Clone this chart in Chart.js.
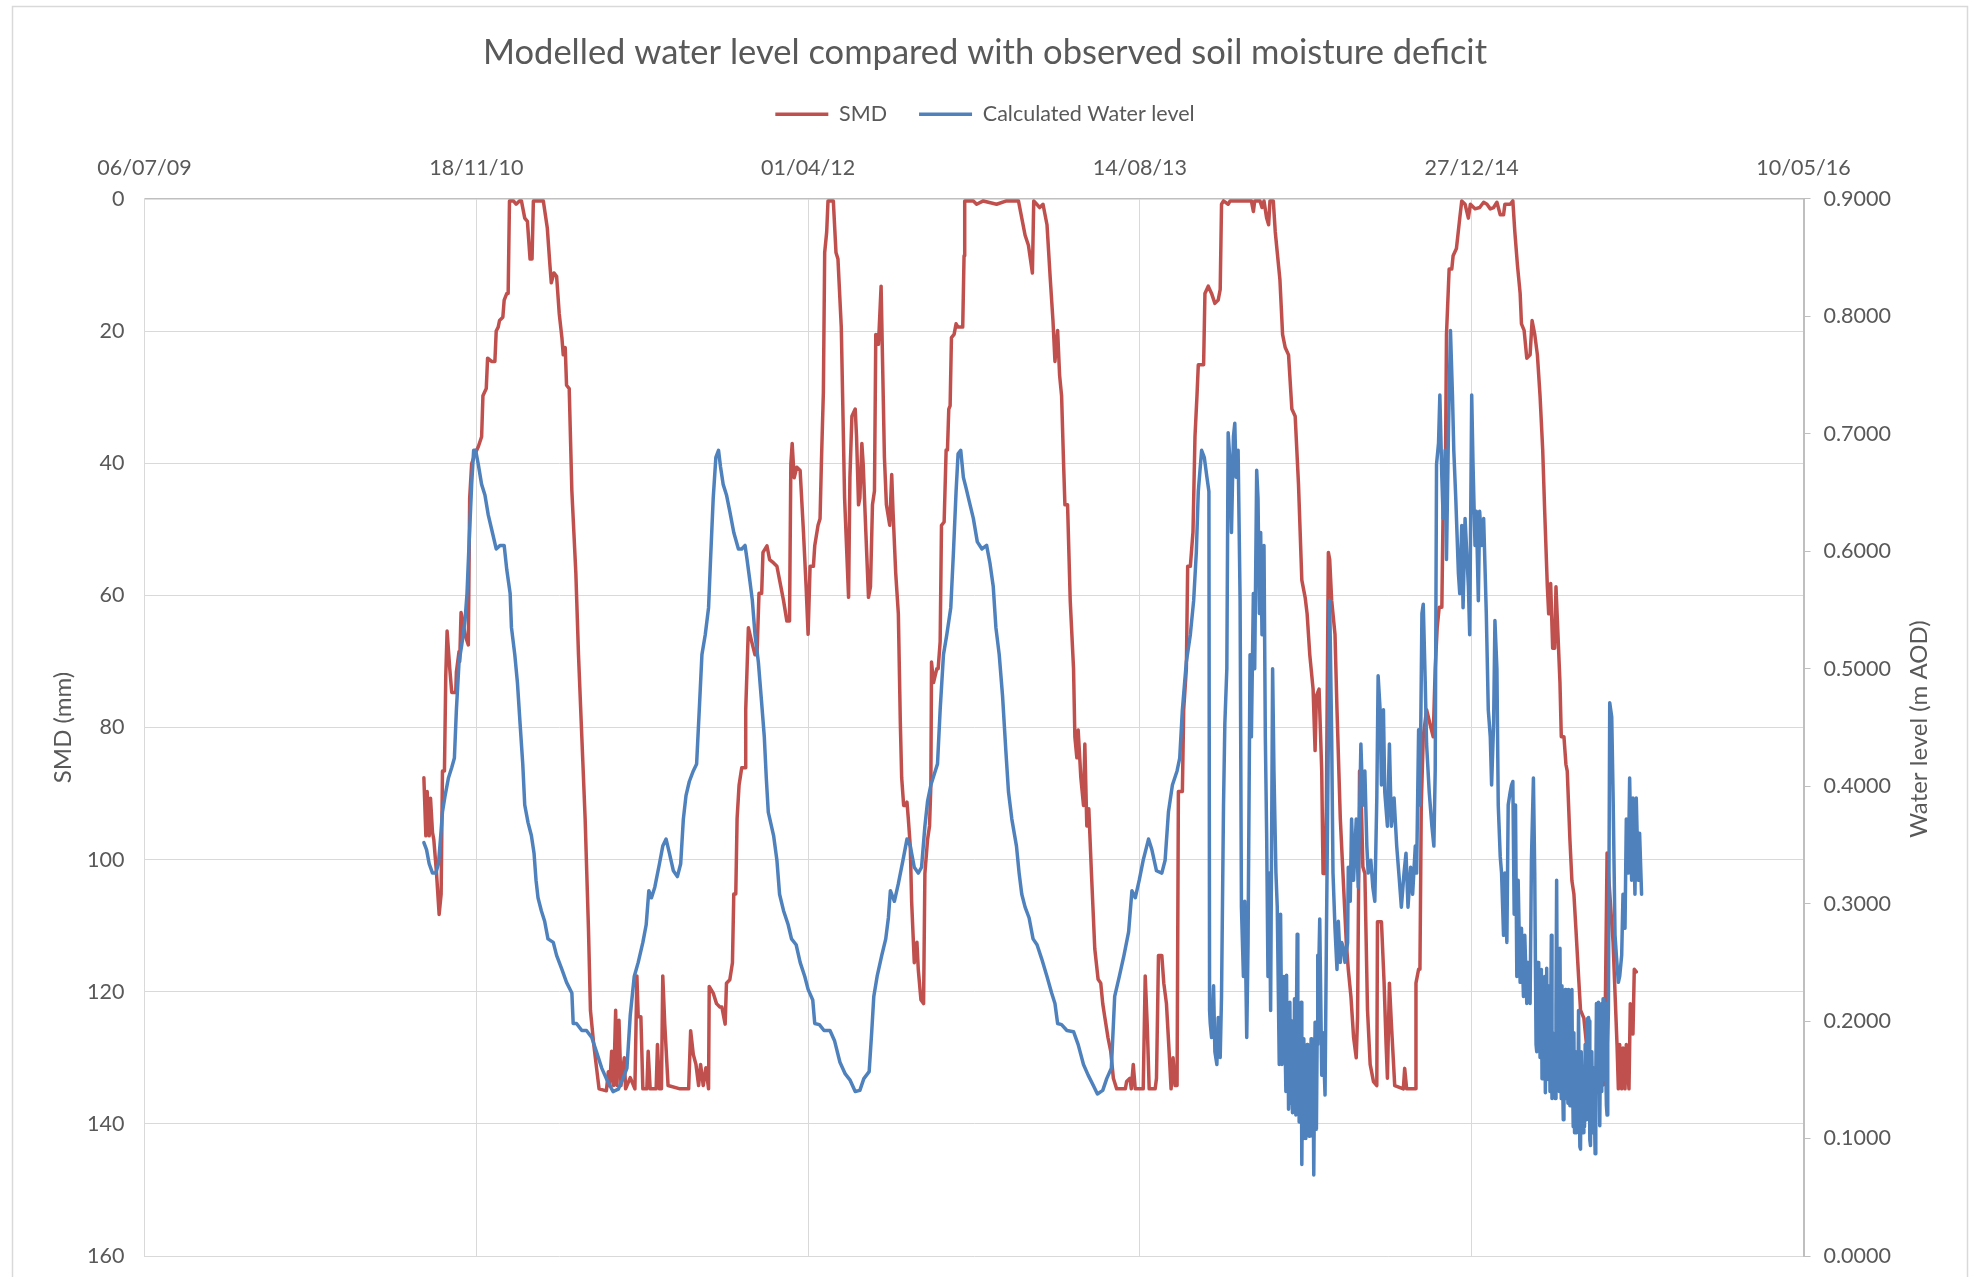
<!DOCTYPE html>
<html>
<head>
<meta charset="utf-8">
<title>Modelled water level compared with observed soil moisture deficit</title>
<script src="https://cdn.jsdelivr.net/npm/chart.js@4.4.1/dist/chart.umd.min.js"></script>
<style>
  html, body { margin: 0; padding: 0; background: #fff; }
  #wrap { width: 1970px; height: 1277px; position: relative; }
</style>
</head>
<body>
<div id="wrap"><canvas id="chart" width="1970" height="1277"></canvas></div>
<script>
// x values are days since 06/07/09 (the first axis tick)
const dateLabels = ["06/07/09", "18/11/10", "01/04/12", "14/08/13", "27/12/14", "10/05/16"];
const daysPerTick = 500;

// -------------------- SMD (mm) --------------------
const smdDays = [
  421, 424, 426, 429, 431, 434, 436, 440, 444, 447, 449, 452, 454, 456, 460, 463, 469, 470, 474, 475,
  477, 480, 483, 488, 490, 493, 498, 503, 508, 510, 515, 517, 523, 528, 530, 533, 535, 540, 542, 546,
  548, 550, 556, 560, 565, 568, 573, 577, 581, 584, 586, 601, 607, 611, 613, 617, 621, 625, 629, 631,
  634, 636, 640, 644, 650, 654, 659, 664, 669, 672, 677, 685, 696, 699, 701, 704, 707, 710, 712, 715,
  718, 723, 725, 732, 739, 742, 744, 748, 751, 757, 759, 762, 771, 773, 776, 779, 781, 784, 789, 807,
  820, 823, 827, 831, 835, 838, 842, 846, 850, 851, 857, 862, 867, 870, 875, 877, 882, 886, 888, 891,
  893, 896, 900, 905, 906, 910, 915, 920, 923, 926, 930, 932, 938, 942, 948, 953, 958, 963, 968, 972,
  974, 976, 979, 983, 988, 993, 997, 1000, 1003, 1008, 1010, 1015, 1018, 1020, 1023, 1025, 1028, 1030, 1038, 1042,
  1045, 1050, 1055, 1061, 1063, 1066, 1071, 1073, 1076, 1078, 1081, 1083, 1087, 1091, 1094, 1097, 1100, 1102, 1106, 1107,
  1110, 1112, 1115, 1118, 1123, 1126, 1128, 1132, 1136, 1139, 1141, 1144, 1146, 1149, 1151, 1154, 1156, 1160, 1164, 1166,
  1170, 1174, 1176, 1180, 1183, 1185, 1186, 1189, 1194, 1196, 1199, 1201, 1205, 1208, 1210, 1212, 1214, 1216, 1220, 1223,
  1226, 1233, 1235, 1236, 1249, 1254, 1264, 1284, 1299, 1317, 1322, 1327, 1332, 1335, 1338, 1340, 1349, 1354, 1360, 1365,
  1369, 1372, 1376, 1379, 1382, 1385, 1387, 1391, 1395, 1400, 1402, 1405, 1407, 1411, 1415, 1417, 1420, 1423, 1427, 1432,
  1437, 1441, 1444, 1447, 1452, 1456, 1460, 1465, 1478, 1480, 1485, 1487, 1490, 1493, 1505, 1508, 1511, 1514, 1523, 1525,
  1528, 1533, 1536, 1540, 1544, 1547, 1550, 1553, 1556, 1558, 1564, 1566, 1570, 1572, 1576, 1580, 1583, 1586, 1588, 1596,
  1598, 1603, 1608, 1613, 1618, 1621, 1623, 1626, 1633, 1636, 1668, 1671, 1673, 1681, 1684, 1687, 1691, 1694, 1696, 1701,
  1704, 1707, 1711, 1715, 1719, 1724, 1729, 1734, 1739, 1744, 1749, 1752, 1756, 1761, 1764, 1766, 1770, 1774, 1776, 1779,
  1781, 1784, 1786, 1789, 1794, 1797, 1802, 1807, 1811, 1814, 1818, 1822, 1826, 1828, 1831, 1833, 1836, 1839, 1843, 1847,
  1852, 1857, 1858, 1864, 1868, 1871, 1873, 1876, 1879, 1884, 1897, 1899, 1902, 1915, 1916, 1920, 1922, 1924, 1927, 1932,
  1937, 1942, 1945, 1948, 1951, 1955, 1957, 1960, 1962, 1966, 1970, 1972, 1977, 1982, 1985, 1990, 1995, 1998, 2005, 2012,
  2018, 2023, 2028, 2033, 2038, 2043, 2048, 2050, 2058, 2062, 2065, 2069, 2073, 2075, 2079, 2083, 2088, 2091, 2095, 2099,
  2103, 2107, 2110, 2114, 2116, 2119, 2122, 2125, 2127, 2130, 2133, 2135, 2139, 2142, 2144, 2148, 2151, 2154, 2157, 2161,
  2164, 2169, 2174, 2180, 2190, 2200, 2204, 2213, 2219, 2221, 2223, 2226, 2228, 2231, 2233, 2237, 2239, 2243, 2245, 2248
];
const smdValues = [
  87.6, 96.4, 89.7, 96.4, 90.7, 95.9, 97, 102, 108.3, 105.2, 86.6, 86.6, 72.1, 65.4, 71.1, 74.7, 74.7, 71.6, 68.5, 70,
  62.6, 63.9, 66, 67.5, 45.3, 40.1, 38.6, 37.5, 36, 29.8, 28.7, 24.1, 24.6, 24.6, 20, 19.4, 18.4, 17.9, 15.3, 14.3,
  14.3, 0.3, 0.3, 0.8, 0.3, 0.3, 2.9, 3.4, 9.1, 9.1, 0.3, 0.3, 4.4, 10.1, 12.7, 11.2, 11.7, 17.4, 21, 23.6,
  22.5, 28.2, 28.7, 44.2, 56.6, 69, 81.4, 93.8, 110.4, 122.8, 128, 134.7, 135, 132.1, 134.2, 129, 134.2, 122.8, 134.2, 124.3,
  134.2, 130, 134.7, 133, 134.7, 117.6, 123.8, 123.8, 134.7, 134.7, 129, 134.7, 134.7, 128, 134.7, 134.7, 117.6, 124.9, 134.2, 134.7,
  134.7, 125.9, 129.5, 131, 134.2, 131, 134.2, 131.5, 134.7, 119.2, 120.2, 121.8, 122.3, 122.3, 124.9, 118.7, 118.2, 115.6, 105.2, 105.2,
  93.8, 88.7, 86.1, 86.1, 77.3, 64.9, 67, 69, 69, 59.7, 59.7, 53.5, 52.5, 54.6, 55.1, 55.6, 58.2, 60.8, 63.9, 63.9,
  40.1, 37, 42.2, 40.6, 41.1, 50.4, 58.7, 65.9, 55.6, 55.6, 52.5, 49.4, 48.4, 40.1, 29.3, 8.1, 5, 0.3, 0.3, 8.1,
  9.1, 19.4, 45.3, 60.3, 42.2, 32.9, 31.8, 36, 46.3, 45.3, 37, 40.1, 50.4, 60.3, 58.7, 46.3, 44.2, 20.5, 22, 19.9,
  13.2, 23.6, 39.1, 46.3, 49.4, 41.7, 47.3, 56.6, 62.8, 79.4, 87.6, 91.8, 91.8, 91.3, 93.8, 98, 106.3, 115.6, 112.5, 116.6,
  121.2, 121.8, 102.1, 97, 94.9, 88.7, 70.1, 73.2, 71.1, 71.1, 67, 49.4, 48.9, 38, 38, 31.8, 31.3, 21, 20.5, 18.9,
  19.4, 19.4, 8.6, 0.3, 0.3, 0.8, 0.3, 0.8, 0.3, 0.3, 2.9, 5.5, 7, 9.1, 11.2, 0.3, 1.3, 0.8, 3.9, 12.2,
  18.4, 24.6, 19.9, 26.7, 29.8, 40.1, 46.3, 46.3, 60.8, 71.1, 81.4, 84.6, 80.4, 87.6, 91.8, 82.5, 94.9, 92.3, 102.1, 113.5,
  118.1, 118.7, 121.8, 123.8, 127, 129, 133.1, 134.7, 134.7, 133.6, 133.1, 134.7, 131, 134.7, 134.7, 117.6, 124.9, 134.7, 134.7, 133.1,
  114.5, 114.5, 118.7, 121.8, 129, 134.7, 130, 134.2, 134.2, 89.7, 89.7, 77.3, 71.1, 55.6, 55.6, 50.4, 36, 29.8, 25.1, 25.1,
  14.3, 13.2, 14.3, 15.8, 15.3, 13.7, 0.8, 0.3, 0.8, 0.3, 0.3, 1.9, 0.3, 0.3, 1.3, 0.3, 2.9, 3.9, 0.3, 0.3,
  5, 8.1, 12.2, 20.5, 22.5, 23.6, 31.8, 32.9, 43.2, 57.7, 60.3, 62.8, 69, 74.2, 83.5, 75.2, 74.2, 86.6, 102.1, 102.1,
  91.8, 53.5, 54.6, 60.8, 65.9, 77.3, 93.8, 104.2, 112.5, 116.6, 120.7, 126.9, 130, 123.8, 86.6, 88.7, 101.1, 102.1, 122.8, 131,
  133.6, 134.2, 109.4, 109.4, 118.7, 128, 133.1, 118.7, 124.9, 134.2, 134.7, 131.6, 134.7, 134.7, 118.7, 116.6, 116.6, 91.8, 81.4, 77.3,
  79.4, 81.4, 71.1, 64.9, 61.8, 61.8, 46.3, 46.3, 20.5, 10.6, 10.6, 8.6, 7.5, 2.9, 0.3, 0.8, 2.9, 0.8, 1.5, 1.3,
  0.5, 0.8, 1.5, 1.3, 0.5, 2.4, 2.4, 0.8, 0.8, 0.3, 5, 10.1, 14.3, 18.9, 19.9, 24.1, 23.6, 18.4, 20.5, 23.6,
  29.8, 38, 47.3, 58.7, 62.8, 58.2, 68, 68, 58.7, 65.9, 73.2, 81.4, 81.4, 85.6, 86.6, 97, 103.2, 105.2, 110.4, 117.6,
  122.8, 124, 129, 132, 134.5, 134, 99, 112.5, 128, 134.7, 128, 134.7, 128.5, 134.7, 128, 134.7, 121.8, 126.4, 116.6, 117
];

// -------------------- Calculated water level (m AOD) --------------------
const wlDays = [
  421, 425, 429, 434, 439, 443, 446, 449, 453, 458, 463, 467, 470, 474, 478, 483, 486, 489, 493, 496,
  499, 503, 508, 513, 518, 523, 530, 536, 542, 546, 551, 553, 558, 562, 566, 570, 573, 578, 583, 587,
  590, 593, 598, 603, 608, 616, 621, 629, 636, 644, 646, 651, 659, 666, 674, 681, 689, 696, 706, 714,
  721, 727, 732, 738, 744, 751, 756, 760, 764, 769, 776, 781, 786, 791, 797, 803, 808, 812, 816, 821,
  827, 832, 836, 840, 845, 850, 853, 857, 861, 865, 868, 872, 877, 882, 888, 895, 900, 905, 908, 912,
  916, 920, 925, 930, 934, 937, 940, 948, 953, 957, 963, 970, 975, 982, 988, 995, 1000, 1007, 1010, 1017,
  1024, 1033, 1040, 1048, 1056, 1063, 1071, 1078, 1084, 1092, 1096, 1099, 1104, 1111, 1117, 1121, 1124, 1130, 1136, 1143,
  1149, 1154, 1160, 1166, 1171, 1176, 1180, 1185, 1190, 1195, 1199, 1204, 1209, 1215, 1219, 1223, 1226, 1230, 1234, 1238,
  1243, 1249, 1255, 1262, 1269, 1274, 1279, 1283, 1288, 1293, 1298, 1302, 1307, 1314, 1318, 1322, 1327, 1333, 1339, 1345,
  1352, 1360, 1367, 1372, 1376, 1382, 1390, 1400, 1407, 1415, 1422, 1430, 1436, 1444, 1450, 1457, 1462, 1469, 1476, 1483,
  1488, 1493, 1499, 1505, 1513, 1518, 1525, 1533, 1538, 1543, 1549, 1556, 1560, 1564, 1570, 1576, 1581, 1585, 1588, 1593,
  1597, 1601, 1604, 1605, 1606, 1608, 1611, 1613, 1616, 1618, 1621, 1623, 1626, 1628, 1631, 1633, 1636, 1638, 1641, 1643,
  1645, 1648, 1651, 1653, 1656, 1658, 1661, 1663, 1666, 1668, 1671, 1673, 1676, 1678, 1680, 1682, 1684, 1687, 1689, 1691,
  1693, 1695, 1697, 1700, 1702, 1705, 1707, 1710, 1712, 1714, 1717, 1720, 1721, 1722, 1723, 1724, 1725, 1726, 1727, 1728,
  1729, 1730, 1731, 1732, 1733, 1734, 1735, 1736, 1737, 1738, 1739, 1740, 1741, 1742, 1743, 1744, 1745, 1746, 1747, 1748,
  1749, 1750, 1751, 1752, 1753, 1754, 1755, 1756, 1757, 1758, 1759, 1760, 1761, 1762, 1763, 1764, 1765, 1766, 1767, 1768,
  1769, 1771, 1774, 1776, 1779, 1781, 1784, 1786, 1789, 1791,
  1794, 1797, 1799, 1802, 1804, 1807, 1809, 1813, 1814, 1817, 1819, 1822, 1826, 1829, 1833, 1836, 1839, 1842, 1844, 1848,
  1851, 1854, 1857, 1859, 1862, 1864, 1867, 1869, 1873, 1876, 1879, 1883, 1887, 1891, 1894, 1898, 1901, 1904, 1908, 1911,
  1915, 1917, 1920, 1922, 1925, 1927, 1930, 1932, 1936, 1940, 1943, 1945, 1947, 1950, 1952, 1955, 1957, 1960, 1962, 1965,
  1968, 1971, 1973, 1976, 1980, 1982, 1985, 1987, 1990, 1992, 1995, 1997, 2000, 2002, 2005, 2007, 2010, 2012, 2015, 2018,
  2022, 2025, 2028, 2030, 2033, 2035, 2038, 2040, 2043, 2045, 2048, 2050, 2053, 2055, 2058, 2060, 2062, 2064, 2066, 2068,
  2070, 2073, 2075, 2078, 2080, 2083, 2085, 2088, 2090, 2093,
  2095, 2096, 2097, 2098, 2099, 2100, 2101, 2102, 2103, 2104, 2105, 2106, 2107, 2108, 2109, 2110, 2111, 2112, 2113, 2114,
  2115, 2116, 2117, 2118, 2119, 2120, 2121, 2122, 2123, 2124, 2125, 2126, 2127, 2128, 2129, 2130, 2131, 2132, 2133, 2134,
  2135, 2136, 2137, 2138, 2139, 2140, 2141, 2142, 2143, 2144, 2145, 2146, 2147, 2148, 2149, 2150, 2151, 2152, 2153, 2154,
  2155, 2156, 2157, 2158, 2159, 2160, 2161, 2162, 2163, 2164, 2165, 2166, 2167, 2168, 2169, 2170, 2171, 2172, 2173, 2174,
  2175, 2176, 2177, 2178, 2179, 2180, 2181, 2182, 2183, 2184, 2185, 2186, 2187, 2188, 2189, 2190, 2191, 2192, 2193, 2194,
  2195, 2196, 2197, 2198, 2199, 2200, 2201, 2202, 2203, 2204, 2205, 2206,
  2208, 2211, 2213, 2216, 2218,
  2221, 2223, 2226, 2228, 2231, 2233, 2236, 2238, 2241, 2243, 2246, 2248, 2251, 2253, 2256
];
const wlValues = [
  0.352, 0.346, 0.334, 0.326, 0.326, 0.334, 0.355, 0.378, 0.392, 0.407, 0.416, 0.424, 0.465, 0.506, 0.520, 0.541, 0.564, 0.605, 0.657, 0.686,
  0.686, 0.674, 0.657, 0.648, 0.631, 0.619, 0.602, 0.605, 0.605, 0.584, 0.564, 0.535, 0.512, 0.488, 0.453, 0.419, 0.384, 0.369, 0.358, 0.343,
  0.320, 0.305, 0.294, 0.285, 0.270, 0.267, 0.256, 0.244, 0.233, 0.224, 0.198, 0.198, 0.192, 0.192, 0.186, 0.174, 0.160, 0.151, 0.140, 0.142,
  0.151, 0.160, 0.205, 0.238, 0.250, 0.267, 0.282, 0.311, 0.305, 0.314, 0.334, 0.349, 0.355, 0.343, 0.328, 0.323, 0.334, 0.372, 0.392, 0.404,
  0.413, 0.419, 0.465, 0.512, 0.529, 0.552, 0.593, 0.645, 0.680, 0.686, 0.672, 0.657, 0.648, 0.634, 0.616, 0.602, 0.602, 0.605, 0.593, 0.576,
  0.558, 0.529, 0.506, 0.471, 0.442, 0.407, 0.378, 0.358, 0.337, 0.308, 0.294, 0.282, 0.270, 0.265, 0.250, 0.238, 0.227, 0.218, 0.198, 0.197,
  0.192, 0.192, 0.183, 0.165, 0.155, 0.150, 0.140, 0.141, 0.151, 0.157, 0.192, 0.221, 0.238, 0.256, 0.270, 0.288, 0.311, 0.302, 0.317, 0.337,
  0.355, 0.349, 0.331, 0.326, 0.331, 0.366, 0.387, 0.401, 0.410, 0.419, 0.465, 0.512, 0.529, 0.552, 0.599, 0.651, 0.683, 0.686, 0.663, 0.654,
  0.642, 0.628, 0.608, 0.602, 0.605, 0.590, 0.570, 0.535, 0.512, 0.477, 0.430, 0.395, 0.372, 0.349, 0.326, 0.308, 0.297, 0.288, 0.270, 0.265,
  0.253, 0.238, 0.224, 0.215, 0.198, 0.197, 0.192, 0.191, 0.180, 0.163, 0.154, 0.145, 0.138, 0.141, 0.151, 0.160, 0.221, 0.238, 0.256, 0.276,
  0.311, 0.305, 0.320, 0.337, 0.355, 0.346, 0.328, 0.326, 0.337, 0.378, 0.401, 0.413, 0.424, 0.465, 0.506, 0.529, 0.558, 0.599, 0.651, 0.686,
  0.680, 0.663, 0.651, 0.209, 0.198, 0.186, 0.230, 0.174, 0.163, 0.203, 0.169, 0.221, 0.384, 0.453, 0.500, 0.701, 0.674, 0.616, 0.698, 0.709,
  0.663, 0.686, 0.558, 0.297, 0.238, 0.302, 0.186, 0.267, 0.512, 0.442, 0.564, 0.500, 0.669, 0.645, 0.547, 0.616, 0.529, 0.605, 0.442, 0.360,
  0.238, 0.326, 0.209, 0.500, 0.413, 0.326, 0.297, 0.163, 0.291, 0.163, 0.238, 0.140, 0.239, 0.150, 0.205, 0.125, 0.190, 0.216, 0.130, 0.200,
  0.140, 0.122, 0.195, 0.128, 0.219, 0.150, 0.120, 0.210, 0.274, 0.160, 0.200, 0.114, 0.170, 0.125, 0.216, 0.078, 0.150, 0.100, 0.185, 0.120,
  0.170, 0.100, 0.160, 0.180, 0.110, 0.165, 0.102, 0.150, 0.120, 0.185, 0.105, 0.102, 0.160, 0.069, 0.140, 0.199, 0.120, 0.108, 0.180, 0.256,
  0.230, 0.287, 0.154, 0.190, 0.137, 0.267, 0.442, 0.558, 0.442, 0.326,
  0.279, 0.244, 0.285, 0.250, 0.267, 0.262, 0.250, 0.267, 0.331, 0.302, 0.372, 0.320, 0.372, 0.314, 0.436, 0.384, 0.413, 0.349, 0.326, 0.337,
  0.314, 0.302, 0.390, 0.494, 0.465, 0.401, 0.465, 0.395, 0.366, 0.436, 0.366, 0.390, 0.349, 0.320, 0.297, 0.326, 0.343, 0.297, 0.331, 0.308,
  0.349, 0.326, 0.448, 0.384, 0.547, 0.555, 0.488, 0.436, 0.395, 0.366, 0.349, 0.413, 0.674, 0.692, 0.733, 0.663, 0.628, 0.686, 0.593, 0.703,
  0.788, 0.733, 0.686, 0.645, 0.581, 0.564, 0.622, 0.552, 0.628, 0.605, 0.570, 0.529, 0.733, 0.674, 0.605, 0.634, 0.558, 0.634, 0.605, 0.628,
  0.547, 0.465, 0.442, 0.401, 0.453, 0.541, 0.500, 0.384, 0.340, 0.326, 0.273, 0.326, 0.267, 0.384, 0.395, 0.401, 0.404, 0.291, 0.384, 0.238,
  0.320, 0.233, 0.279, 0.221, 0.273, 0.215, 0.250, 0.215, 0.337, 0.407,
  0.326, 0.250, 0.180, 0.174, 0.230, 0.250, 0.190, 0.240, 0.169, 0.210, 0.244, 0.151, 0.200, 0.151, 0.220, 0.238, 0.139, 0.190, 0.245, 0.160,
  0.209, 0.150, 0.230, 0.140, 0.200, 0.273, 0.134, 0.190, 0.180, 0.136, 0.140, 0.134, 0.210, 0.320, 0.200, 0.151, 0.190, 0.140, 0.262, 0.180,
  0.134, 0.230, 0.150, 0.116, 0.200, 0.150, 0.227, 0.160, 0.134, 0.222, 0.130, 0.227, 0.170, 0.128, 0.215, 0.140, 0.227, 0.150, 0.110, 0.190,
  0.105, 0.174, 0.130, 0.105, 0.170, 0.120, 0.209, 0.140, 0.093, 0.091, 0.174, 0.174, 0.120, 0.105, 0.160, 0.110, 0.180, 0.140, 0.116, 0.202,
  0.150, 0.203, 0.200, 0.099, 0.094, 0.150, 0.174, 0.130, 0.105, 0.160, 0.120, 0.087, 0.150, 0.215, 0.160, 0.200, 0.216, 0.150, 0.111, 0.180,
  0.140, 0.215, 0.170, 0.219, 0.150, 0.174, 0.215, 0.160, 0.128, 0.120, 0.180, 0.209,
  0.471, 0.459, 0.395, 0.273, 0.256,
  0.233, 0.238, 0.256, 0.308, 0.279, 0.372, 0.326, 0.407, 0.320, 0.390, 0.308, 0.390, 0.320, 0.360, 0.308
];

// -------------------- STYLE --------------------
const FONT = "Lato, 'Noto Sans', 'Liberation Sans', sans-serif";
const TEXT = "#595959";
const GRID = "#d9d9d9";
const AXIS = "#bfbfbf";
const RED = "#c0504d";
const BLUE = "#4f81bd";

// chart border + right-hand axis title (Excel reads it bottom-to-top)
const frame = {
  id: "frame",
  beforeDraw(chart) {
    const c = chart.ctx;
    c.save();
    c.fillStyle = "#fff";
    c.fillRect(0, 0, chart.width, chart.height);
    c.strokeStyle = GRID;
    c.lineWidth = 1.5;
    c.strokeRect(12.5, 6.5, 1955, 1300);
    c.restore();
  },
  afterDraw(chart) {
    const c = chart.ctx;
    c.save();
    c.translate(1919, 729);
    c.rotate(-Math.PI / 2);
    c.fillStyle = TEXT;
    c.font = "24px " + FONT;
    c.textAlign = "center";
    c.textBaseline = "middle";
    c.fillText("Water level (m AOD)", 0, 0);
    c.restore();
  }
};

const toPoints = (xs, ys) => xs.map((x, i) => ({ x, y: ys[i] }));

// fixed axis box; drop the label overhang padding so the plot reaches the bottom margin
const fixWidth = (w) => (s) => {
  s.width = w;
  s.paddingTop = 0;
  s.paddingBottom = 0;
};

new Chart(document.getElementById("chart"), {
  type: "line",
  data: {
    datasets: [
      {
        label: "SMD",
        data: toPoints(smdDays, smdValues),
        yAxisID: "y",
        borderColor: RED,
        backgroundColor: RED,
        borderWidth: 3.5,
        order: 1
      },
      {
        label: "Calculated Water level",
        data: toPoints(wlDays, wlValues),
        yAxisID: "y1",
        borderColor: BLUE,
        backgroundColor: BLUE,
        borderWidth: 3.5,
        order: 0
      }
    ]
  },
  options: {
    responsive: false,
    animation: false,
    devicePixelRatio: 1,
    parsing: false,
    elements: {
      point: { radius: 0 },
      line: { tension: 0, borderJoinStyle: "round", borderCapStyle: "round" }
    },
    layout: { padding: { left: 0, right: 0, top: 0, bottom: 21 } },
    plugins: {
      title: {
        display: true,
        text: "Modelled water level compared with observed soil moisture deficit",
        color: TEXT,
        font: { family: FONT, size: 34.5, weight: "normal", lineHeight: 1 },
        padding: { top: 35.5, bottom: 1.5 }
      },
      legend: {
        display: true,
        labels: {
          color: TEXT,
          font: { family: FONT, size: 21.5 },
          usePointStyle: true,
          pointStyle: "line",
          pointStyleWidth: 53,
          padding: 32,
          sort: (a, b) => a.datasetIndex - b.datasetIndex
        }
      },
      tooltip: { enabled: false }
    },
    scales: {
      x: {
        type: "linear",
        position: "top",
        min: 0,
        max: dateLabels.length * daysPerTick - daysPerTick,
        afterFit: (s) => { s.height = 63.95; },
        ticks: {
          stepSize: daysPerTick,
          autoSkip: false,
          maxRotation: 0,
          padding: 17.5,
          color: TEXT,
          font: { family: FONT, size: 21.5 },
          callback: (v) => dateLabels[Math.round(v / daysPerTick)]
        },
        grid: { color: GRID, drawTicks: false },
        border: { color: AXIS, width: 1.5 }
      },
      y: {
        position: "left",
        reverse: true,
        min: 0,
        max: 160,
        afterFit: fixWidth(144.5),
        ticks: {
          stepSize: 20,
          padding: 20,
          color: TEXT,
          font: { family: FONT, size: 21.5 }
        },
        grid: { color: GRID, drawTicks: false },
        border: { color: GRID, width: 1 },
        title: {
          display: true,
          text: "SMD (mm)",
          color: TEXT,
          font: { family: FONT, size: 24 },
          padding: { top: 49 }
        }
      },
      y1: {
        position: "right",
        min: 0,
        max: 0.9,
        afterFit: fixWidth(166.5),
        ticks: {
          stepSize: 0.1,
          padding: 13,
          color: TEXT,
          font: { family: FONT, size: 21.5 },
          callback: (v) => Number(v).toFixed(4)
        },
        grid: { drawOnChartArea: false, drawTicks: true, tickLength: 7, tickColor: AXIS },
        border: { color: AXIS, width: 2 }
      }
    }
  },
  plugins: [frame]
});
</script>
</body>
</html>
